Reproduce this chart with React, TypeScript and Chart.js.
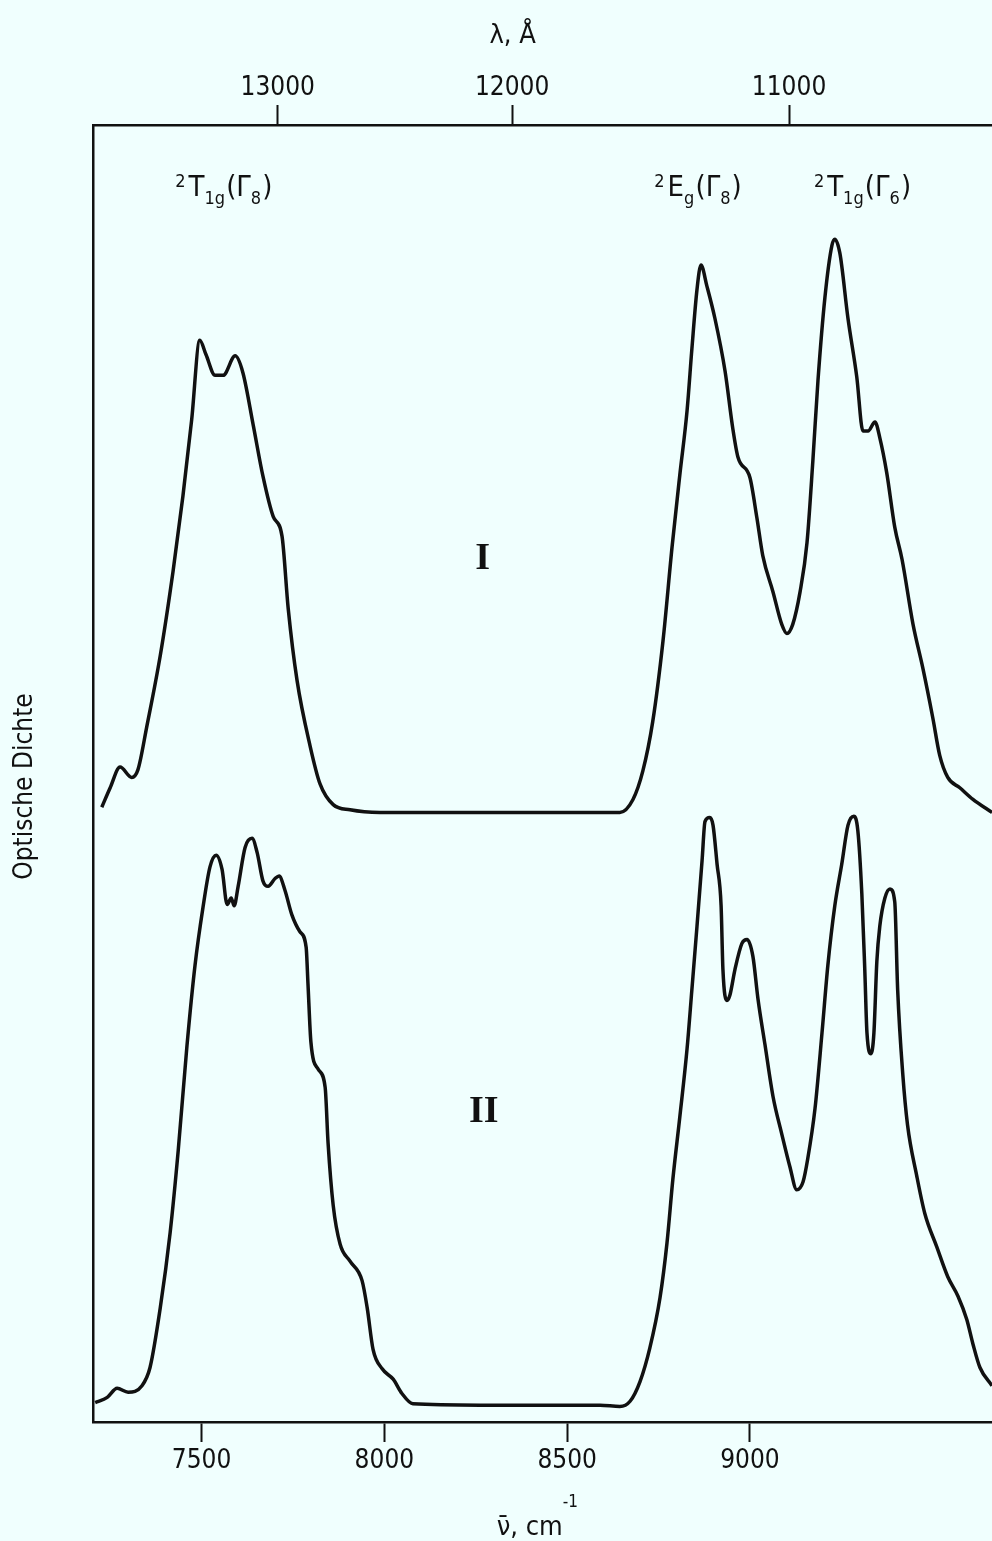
import React, { useEffect, useRef } from 'react';
import { Chart, registerables } from 'chart.js';

Chart.register(...registerables);

// Wavenumber range of the plot (cm^-1) and axis ticks
const WAVENUMBER_MIN = 7203;
const WAVENUMBER_MAX = 9662;
const WAVENUMBER_TICKS = [7500, 8000, 8500, 9000];
// Wavelength ticks on the upper axis (Å); the upper scale is drawn 16 cm^-1 offset
const WAVELENGTH_TICKS = [13000, 12000, 11000];
const WAVELENGTH_AXIS_SHIFT = 16;

// Spectrum I (upper trace), wavenumber in cm^-1 and optical density (arb. units)
const SPECTRUM_I_NU = [
  7227, 7250, 7277, 7309, 7326, 7350, 7387, 7422, 7449, 7473, 7495, 7512, 7537, 7559,
  7592, 7613, 7641, 7668, 7696, 7720, 7737, 7761, 7797, 7824, 7860, 7906, 7988, 8316,
  8590, 8644, 8680, 8707, 8734, 8762, 8787, 8808, 8828, 8841, 8855, 8866, 8882, 8904,
  8932, 8953, 8967, 9000, 9019, 9035, 9063, 9087, 9101, 9117, 9137, 9156, 9172, 9186,
  9205, 9224, 9232, 9246, 9268, 9292, 9309, 9323, 9342, 9355, 9374, 9396, 9416, 9446,
  9473, 9500, 9519, 9541, 9574, 9610, 9651, 9662,
];
const SPECTRUM_I_OD = [
  47.4, 48.9, 50.5, 49.7, 50.3, 53.6, 59.1, 65.6, 71.4, 77.3, 83.4, 82.3, 80.7, 80.7,
  82.2, 80.9, 76.9, 72.9, 69.8, 68.3, 62.7, 57.2, 52.1, 49.2, 47.6, 47.2, 47.0, 47.0,
  47.0, 47.0, 48.0, 50.2, 54.0, 60.2, 67.5, 73.0, 78.0, 82.7, 87.3, 89.2, 87.6, 85.1,
  81.0, 76.6, 74.4, 72.8, 69.7, 66.8, 64.0, 61.5, 60.8, 61.5, 64.0, 67.8, 74.1, 80.3,
  86.7, 90.7, 91.2, 90.1, 85.1, 80.6, 76.4, 76.4, 77.1, 75.9, 73.2, 69.0, 66.5, 61.5,
  58.1, 54.3, 51.4, 49.7, 48.9, 48.0, 47.2, 47.0,
];

// Spectrum II (lower trace)
const SPECTRUM_II_NU = [
  7209, 7242, 7269, 7299, 7337, 7359, 7387, 7414, 7436, 7460, 7482, 7504, 7523, 7540,
  7556, 7570, 7581, 7589, 7600, 7619, 7638, 7652, 7668, 7682, 7701, 7712, 7728, 7747,
  7769, 7786, 7791, 7799, 7819, 7838, 7846, 7860, 7879, 7906, 7939, 7953, 7969, 7994,
  8024, 8048, 8078, 8262, 8590, 8644, 8672, 8699, 8726, 8754, 8773, 8789, 8808, 8828,
  8841, 8855, 8869, 8877, 8890, 8899, 8910, 8921, 8926, 8937, 8945, 8959, 8978, 8992,
  9008, 9022, 9041, 9063, 9087, 9109, 9128, 9145, 9158, 9178, 9197, 9213, 9232, 9251,
  9268, 9284, 9295, 9306, 9314, 9320, 9331, 9339, 9347, 9355, 9369, 9383, 9396, 9404,
  9418, 9431, 9456, 9478, 9511, 9541, 9569, 9593, 9610, 9629, 9662,
];
const SPECTRUM_II_OD = [
  1.5, 1.9, 2.6, 2.3, 2.8, 4.2, 8.8, 14.6, 20.9, 29.0, 35.2, 39.7, 42.8, 43.7,
  42.6, 39.9, 40.4, 39.8, 41.3, 44.3, 45.0, 43.9, 41.7, 41.3, 41.9, 42.1, 41.0, 39.1,
  37.8, 36.6, 33.8, 29.3, 27.2, 25.8, 21.5, 16.7, 13.7, 12.4, 10.9, 8.8, 5.6, 4.1,
  3.3, 2.2, 1.4, 1.3, 1.3, 1.2, 1.6, 3.1, 5.7, 9.6, 13.8, 18.7, 23.5, 28.8,
  33.3, 38.2, 43.3, 46.3, 46.6, 46.0, 43.0, 39.8, 34.9, 32.5, 32.9, 34.9, 36.9, 37.2,
  35.9, 32.6, 29.1, 25.1, 22.2, 19.7, 17.9, 18.5, 20.3, 24.2, 30.0, 35.2, 39.8, 43.0,
  46.0, 46.7, 45.6, 40.7, 34.9, 30.0, 28.4, 30.0, 35.5, 38.2, 40.4, 41.1, 40.1, 33.3,
  26.8, 22.9, 19.0, 16.1, 13.5, 11.2, 9.7, 7.9, 6.0, 4.2, 2.8,
];

type Seg = { t: string; k?: 'sup' | 'sub'; dy?: number };

// Term symbols of the bands, anchored at (wavenumber, optical density) of their baseline
const BAND_LABEL_NU = [7561, 8858, 9308];
const BAND_LABEL_OD = 94.5;
const BAND_LABELS: Seg[][] = [
  [{ t: '2', k: 'sup' }, { t: 'T' }, { t: '1g', k: 'sub' }, { t: '(' }, { t: 'Γ' }, { t: '8', k: 'sub' }, { t: ')' }],
  [{ t: '2', k: 'sup' }, { t: 'E' }, { t: 'g', k: 'sub' }, { t: '(' }, { t: 'Γ' }, { t: '8', k: 'sub' }, { t: ')' }],
  [{ t: '2', k: 'sup' }, { t: 'T' }, { t: '1g', k: 'sub' }, { t: '(' }, { t: 'Γ' }, { t: '6', k: 'sub' }, { t: ')' }],
];

// Sample designations
const SAMPLE_NAMES = ['I', 'II'];
const SAMPLE_NU = [8269, 8272];
const SAMPLE_OD = [65.8, 23.1];

const TOP_TITLE: Seg[] = [{ t: 'λ, Å' }];
const TOP_TITLE_NU = 8351;
const BOTTOM_TITLE: Seg[] = [{ t: 'ν̄, cm' }, { t: '-1', k: 'sup', dy: -1.05 }];
const BOTTOM_TITLE_NU = 8422;
const Y_TITLE = 'Optische Dichte';

const INK = '#111111';
const BG = '#F0FFFE';
const SANS = "'Liberation Sans Narrow', 'DejaVu Sans Condensed', 'Arial Narrow', sans-serif";
const SERIF = "'Liberation Serif', 'DejaVu Serif', serif";

function drawRich(ctx: CanvasRenderingContext2D, segs: Seg[], cx: number, baseY: number, size: number) {
  const small = Math.round(size * 0.62);
  const fontOf = (s: Seg) => `${s.k ? small : size}px ${SANS}`;
  const gapOf = (s: Seg) => (s.k === 'sup' ? size * 0.1 : s.k === 'sub' ? size * 0.04 : 0);
  let total = 0;
  for (const s of segs) {
    ctx.font = fontOf(s);
    total += ctx.measureText(s.t).width + gapOf(s);
  }
  let px = cx - total / 2;
  for (const s of segs) {
    ctx.font = fontOf(s);
    const dy = s.dy !== undefined ? s.dy * size : s.k === 'sup' ? -0.32 * size : s.k === 'sub' ? 0.27 * size : 0;
    ctx.fillText(s.t, px, baseY + dy);
    px += ctx.measureText(s.t).width + gapOf(s);
  }
}

const textPlugin = {
  id: 'spectrumText',
  beforeDraw(chart: any) {
    const { ctx, width, height } = chart;
    ctx.save();
    ctx.fillStyle = BG;
    ctx.fillRect(0, 0, width, height);
    ctx.restore();
  },
  afterDraw(chart: any) {
    const { ctx, chartArea } = chart;
    const x = chart.scales.x;
    const y = chart.scales.y;
    ctx.save();
    ctx.fillStyle = INK;
    ctx.textAlign = 'left';
    ctx.textBaseline = 'alphabetic';

    BAND_LABELS.forEach((segs, i) => {
      drawRich(ctx, segs, x.getPixelForValue(BAND_LABEL_NU[i]), y.getPixelForValue(BAND_LABEL_OD), 29);
    });

    drawRich(ctx, TOP_TITLE, x.getPixelForValue(TOP_TITLE_NU), chartArea.top - 82, 27);
    drawRich(ctx, BOTTOM_TITLE, x.getPixelForValue(BOTTOM_TITLE_NU), chartArea.bottom + 113, 27);

    ctx.textAlign = 'center';
    ctx.font = `bold 38px ${SERIF}`;
    SAMPLE_NAMES.forEach((name, i) => {
      ctx.fillText(name, x.getPixelForValue(SAMPLE_NU[i]), y.getPixelForValue(SAMPLE_OD[i]));
    });

    ctx.translate(25, (chartArea.top + chartArea.bottom) / 2 + 13);
    ctx.rotate(-Math.PI / 2);
    ctx.textBaseline = 'middle';
    ctx.font = `26px ${SANS}`;
    ctx.fillText(Y_TITLE, 0, 0);
    ctx.restore();
  },
};

const axisLook = {
  grid: {
    display: true,
    drawOnChartArea: false,
    drawTicks: true,
    tickLength: 20,
    tickWidth: 2,
    tickColor: INK,
    color: INK,
  },
  border: { display: true, color: INK, width: 2.5 },
};

export default function App() {
  const canvasRef = useRef<HTMLCanvasElement | null>(null);

  useEffect(() => {
    document.body.style.margin = '0';
    document.body.style.background = BG;
    const canvas = canvasRef.current;
    if (!canvas) return;

    const toPoints = (nu: number[], od: number[]) => nu.map((v, i) => ({ x: v, y: od[i] }));

    const chart = new Chart(canvas, {
      type: 'line',
      data: {
        datasets: [
          {
            label: 'I',
            data: toPoints(SPECTRUM_I_NU, SPECTRUM_I_OD),
            xAxisID: 'x',
            yAxisID: 'y',
            borderColor: INK,
            borderWidth: 3.5,
            pointRadius: 0,
            cubicInterpolationMode: 'monotone',
            fill: false,
          },
          {
            label: 'II',
            data: toPoints(SPECTRUM_II_NU, SPECTRUM_II_OD),
            xAxisID: 'x',
            yAxisID: 'y',
            borderColor: INK,
            borderWidth: 3.5,
            pointRadius: 0,
            cubicInterpolationMode: 'monotone',
            fill: false,
          },
        ],
      },
      options: {
        animation: false,
        responsive: false,
        maintainAspectRatio: false,
        events: [],
        layout: { padding: 0 },
        plugins: { legend: { display: false }, tooltip: { enabled: false } },
        scales: {
          x: {
            type: 'linear',
            position: 'bottom',
            min: WAVENUMBER_MIN,
            max: WAVENUMBER_MAX,
            afterBuildTicks: (s: any) => {
              s.ticks = WAVENUMBER_TICKS.map((v) => ({ value: v }));
            },
            ticks: {
              color: INK,
              font: { family: SANS, size: 26 },
              padding: 4,
              maxRotation: 0,
              autoSkip: false,
              callback: (v: any) => String(v),
            },
            ...axisLook,
            afterFit: (s: any) => {
              s.height = 119;
            },
          },
          x2: {
            type: 'linear',
            position: 'top',
            min: WAVENUMBER_MIN - WAVELENGTH_AXIS_SHIFT,
            max: WAVENUMBER_MAX - WAVELENGTH_AXIS_SHIFT,
            afterBuildTicks: (s: any) => {
              s.ticks = WAVELENGTH_TICKS.map((l) => ({ value: 1e8 / l }));
            },
            ticks: {
              color: INK,
              font: { family: SANS, size: 26 },
              padding: 1,
              maxRotation: 0,
              autoSkip: false,
              callback: (v: any) => String(Math.round(1e8 / Number(v))),
            },
            ...axisLook,
            afterFit: (s: any) => {
              s.height = 125;
            },
          },
          y: {
            type: 'linear',
            min: 0,
            max: 100,
            ticks: { display: false },
            grid: { display: true, drawOnChartArea: false, drawTicks: false },
            border: { display: true, color: INK, width: 2.5 },
            afterFit: (s: any) => {
              s.width = 93;
            },
          },
        },
      },
      plugins: [textPlugin],
    } as any);

    return () => chart.destroy();
  }, []);

  return (
    <div style={{ position: 'absolute', left: 0, top: 0, width: 992, height: 1541, background: BG }}>
      <canvas ref={canvasRef} width={992} height={1541} style={{ display: 'block' }} />
    </div>
  );
}
